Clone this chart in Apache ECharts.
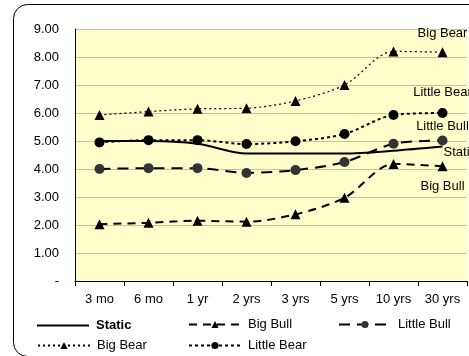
<!DOCTYPE html>
<html><head><meta charset="utf-8">
<script src="https://cdn.jsdelivr.net/npm/echarts@6/dist/echarts.min.js"></script>
<style>html,body{margin:0;padding:0;background:#fff}#c{width:469px;height:356px}</style>
</head><body><div id="c"></div>
<script>
var categories = ['3 mo','6 mo','1 yr','2 yrs','3 yrs','5 yrs','10 yrs','30 yrs'];
var staticVals = [5.0, 5.0, 4.9, 4.55, 4.55, 4.55, 4.65, 4.8];
var bigBull = [2.03, 2.08, 2.15, 2.12, 2.38, 2.97, 4.18, 4.1];
var littleBull = [4.0, 4.03, 4.03, 3.86, 3.96, 4.25, 4.9, 5.02];
var bigBear = [5.93, 6.05, 6.15, 6.17, 6.43, 7.0, 8.2, 8.17];
var littleBear = [4.95, 5.03, 5.03, 4.89, 4.99, 5.25, 5.93, 6.0];

var FONT = 'Liberation Sans, Arial, sans-serif';
function withEndLabel(arr, name, lab) {
  return arr.map(function (v, i) {
    if (i !== arr.length - 1) return v;
    return { value: v, label: Object.assign({ show: true, formatter: name, color: '#000', fontSize: 13, fontFamily: FONT }, lab) };
  });
}
var chart = echarts.init(document.getElementById('c'));
function leg(name, left, top, bold, extra) {
  return Object.assign({
    data: [{ name: name, textStyle: bold ? { fontWeight: 'bold' } : {} }],
    left: left, top: top, itemWidth: 52, itemHeight: 9, itemGap: 0,
    padding: 0, selectedMode: false,
    textStyle: { fontFamily: FONT, fontSize: 13, color: '#000', padding: [0, 0, 0, 2] }
  }, extra || {});
}
chart.setOption({
  animation: false,
  backgroundColor: '#fff',
  graphic: [{
    type: 'rect', shape: { x: 13.5, y: 4.5, width: 470, height: 352, r: 14 },
    style: { fill: 'none', stroke: '#000', lineWidth: 1 }, z: -1
  }],
  grid: { left: 75, top: 29, right: 2, bottom: 75, show: true, backgroundColor: '#FFFFCC', borderWidth: 0 },
  xAxis: {
    type: 'category', data: categories, boundaryGap: true,
    axisLine: { lineStyle: { color: '#000', width: 1 } },
    axisTick: { show: true, length: 5, lineStyle: { color: '#000' } },
    axisLabel: { color: '#000', fontSize: 13, fontFamily: FONT, margin: 12 }
  },
  yAxis: {
    type: 'value', min: 0, max: 9, interval: 1,
    axisLine: { show: true, lineStyle: { color: '#000' } },
    axisTick: { show: false },
    splitLine: { lineStyle: { color: '#c0c0c0', width: 1 } },
    axisLabel: { color: '#000', fontSize: 13, fontFamily: FONT, margin: 16,
      formatter: function (v) { return v === 0 ? '-' : v.toFixed(2); } }
  },
  legend: [
    {
      data: [{ name: 'Static', icon: 'rect', textStyle: { fontWeight: 'bold' } }],
      left: 37, top: 316, itemWidth: 52, itemHeight: 2, padding: [3, 0, 3, 0], selectedMode: false,
      textStyle: { fontFamily: FONT, fontSize: 13, color: '#000', padding: [0, 0, 0, 2] }
    },
    leg('Big Bull', 188, 318),
    leg('Little Bull', 338, 318),
    leg('Big Bear', 37, 339),
    leg('Little Bear', 188, 339)
  ],
  series: [
    { name: 'Static', type: 'line', data: withEndLabel(staticVals, 'Static', { position: 'right', offset: [-4, 6] }),
      smooth: 0.3, symbol: 'circle', symbolSize: 0.01, showSymbol: true, lineStyle: { color: '#000', width: 2, type: 'solid' }, itemStyle: { color: '#000' } },
    { name: 'Big Bull', type: 'line', data: withEndLabel(bigBull, 'Big Bull', { position: 'bottom', distance: 9 }),
      smooth: 0.3, symbol: 'triangle', symbolSize: 10, lineStyle: { color: '#000', width: 2, type: [8, 6] }, itemStyle: { color: '#000' } },
    { name: 'Little Bull', type: 'line', data: withEndLabel(littleBull, 'Little Bull', { position: 'top', distance: 3 }),
      smooth: 0.3, symbol: 'circle', symbolSize: 10, lineStyle: { color: '#000', width: 2, type: [11, 7] }, itemStyle: { color: '#333' } },
    { name: 'Big Bear', type: 'line', data: withEndLabel(bigBear, 'Big Bear', { position: 'top', distance: 7 }),
      smooth: 0.3, symbol: 'triangle', symbolSize: 10, lineStyle: { color: '#000', width: 1.2, type: [2, 3] }, itemStyle: { color: '#000' } },
    { name: 'Little Bear', type: 'line', data: withEndLabel(littleBear, 'Little Bear', { position: 'top', distance: 9 }),
      smooth: 0.3, symbol: 'circle', symbolSize: 10, lineStyle: { color: '#000', width: 2, type: [3, 3] }, itemStyle: { color: '#000' } }
  ]
});
</script></body></html>
